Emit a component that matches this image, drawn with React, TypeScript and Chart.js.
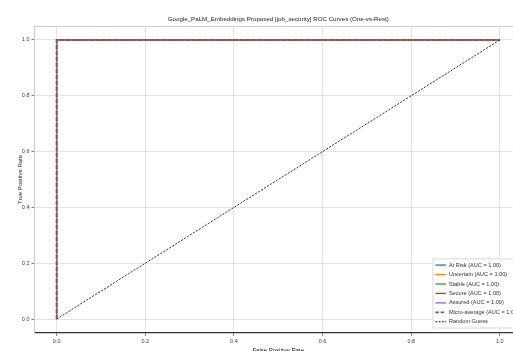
import { useEffect, useRef } from "react";
import { Chart, registerables } from "chart.js";

Chart.register(...registerables);

// One-vs-rest ROC curves per class
const classNames = ["At Risk", "Uncertain", "Stable", "Secure", "Assured"];
const classColors = ["#1f77b4", "#ff7f0e", "#2ca02c", "#d62728", "#9467bd"];
const classAuc = [1.0, 1.0, 1.0, 1.0, 1.0];
const classFpr = [
  [0, 0, 1],
  [0, 0, 1],
  [0, 0, 1],
  [0, 0, 1],
  [0, 0, 1],
];
const classTpr = [
  [0, 1, 1],
  [0, 1, 1],
  [0, 1, 1],
  [0, 1, 1],
  [0, 1, 1],
];

// Micro-averaged curve
const microFpr = [0, 0, 1];
const microTpr = [0, 1, 1];
const microAuc = 1.0;

// Chance diagonal
const chanceFpr = [0, 1];
const chanceTpr = [0, 1];

const axisTicks = [0, 0.2, 0.4, 0.6, 0.8, 1.0];

const TITLE = "Google_PaLM_Embeddings Proposed [job_security] ROC Curves (One-vs-Rest)";
const FONT = "'Liberation Sans', Arial, sans-serif";

const toPoints = (xs: number[], ys: number[]) => xs.map((x, i) => ({ x, y: ys[i] }));

type LegendItem = { label: string; color: string; width: number; dash: number[] };

const legendItems: LegendItem[] = [
  ...classNames.map((n, i) => ({
    label: `${n} (AUC = ${classAuc[i].toFixed(2)})`,
    color: classColors[i],
    width: 1.3,
    dash: [] as number[],
  })),
  { label: `Micro-average (AUC = ${microAuc.toFixed(2)})`, color: "#8c564b", width: 1.9, dash: [3.5, 1.8] },
  { label: "Random Guess", color: "#222222", width: 1, dash: [2, 1.2] },
];

const framePlugin = {
  id: "frameAndLegend",
  afterDatasetsDraw(chart: any) {
    const { ctx, chartArea } = chart;
    const { left, right, top, bottom } = chartArea;
    ctx.save();
    // light top / right spines
    ctx.strokeStyle = "#cccccc";
    ctx.lineWidth = 1;
    ctx.beginPath();
    ctx.moveTo(left, top + 0.5);
    ctx.lineTo(right, top + 0.5);
    ctx.moveTo(right - 0.5, top);
    ctx.lineTo(right - 0.5, bottom);
    ctx.stroke();

    // title centred over the plot area
    ctx.fillStyle = "#222222";
    ctx.font = `6.2px ${FONT}`;
    ctx.textAlign = "center";
    ctx.textBaseline = "middle";
    ctx.fillText(TITLE, (left + right) / 2, top - 7);

    // legend in the lower-right corner
    const fs = 5.6;
    ctx.font = `${fs}px ${FONT}`;
    const rowH = 9.45;
    const handle = 10.5;
    const gap = 3;
    const pad = 2.5;
    const textW = Math.max(...legendItems.map((it) => ctx.measureText(it.label).width));
    const boxW = pad + handle + gap + textW + pad;
    const boxH = pad * 2 + rowH * legendItems.length - 2;
    const bx = right - 0.5 - boxW;
    const by = bottom - 5 - boxH;
    ctx.fillStyle = "rgba(255,255,255,0.85)";
    ctx.strokeStyle = "#d0d0d0";
    ctx.lineWidth = 0.8;
    ctx.beginPath();
    ctx.rect(bx, by, boxW, boxH);
    ctx.fill();
    ctx.stroke();
    ctx.textAlign = "left";
    ctx.textBaseline = "middle";
    legendItems.forEach((it, i) => {
      const cy = by + pad + rowH * i + rowH / 2 - 1;
      ctx.strokeStyle = it.color;
      ctx.lineWidth = it.width;
      ctx.setLineDash(it.dash);
      ctx.beginPath();
      ctx.moveTo(bx + pad, cy);
      ctx.lineTo(bx + pad + handle, cy);
      ctx.stroke();
      ctx.setLineDash([]);
      ctx.fillStyle = "#333333";
      ctx.fillText(it.label, bx + pad + handle + gap, cy);
    });
    ctx.restore();
  },
};

export default function App() {
  const ref = useRef<HTMLCanvasElement>(null);

  useEffect(() => {
    if (!ref.current) return;

    const classSets = classNames.map((name, i) => ({
      label: `${name} (AUC = ${classAuc[i].toFixed(2)})`,
      data: toPoints(classFpr[i], classTpr[i]),
      borderColor: classColors[i],
      backgroundColor: classColors[i],
      borderWidth: 1,
      order: 6 - i,
    }));

    const chart = new Chart(ref.current, {
      type: "scatter",
      data: {
        datasets: [
          ...classSets,
          {
            label: `Micro-average (AUC = ${microAuc.toFixed(2)})`,
            data: toPoints(microFpr, microTpr),
            borderColor: "#8c564b",
            backgroundColor: "#8c564b",
            borderWidth: 2,
            borderDash: [4, 2],
            order: 1,
          },
          {
            label: "Random Guess",
            data: toPoints(chanceFpr, chanceTpr),
            borderColor: "#222222",
            backgroundColor: "#222222",
            borderWidth: 0.9,
            borderDash: [2.2, 1.3],
            order: 0,
          },
        ].map((d) => ({ ...d, showLine: true, pointRadius: 0, fill: false, tension: 0 })),
      },
      options: {
        responsive: false,
        animation: false,
        devicePixelRatio: 1,
        layout: { padding: { top: 26, right: 35, left: 0, bottom: 0 } },
        plugins: {
          legend: { display: false },
          title: { display: false },
          tooltip: { enabled: false },
        },
        scales: {
          x: {
            type: "linear",
            min: -0.05,
            max: 1.05,
            afterFit: (s: any) => {
              s.height = 27;
            },
            afterBuildTicks: (s: any) => {
              s.ticks = axisTicks.map((v) => ({ value: v }));
            },
            ticks: {
              font: { family: FONT, size: 5.5 },
              color: "#444444",
              padding: 2,
              maxRotation: 0,
              callback: (v: any) => Number(v).toFixed(1),
            },
            grid: {
              color: "rgba(0,0,0,0.14)",
              lineWidth: 0.8,
              tickLength: 3,
              tickColor: "#666666",
            },
            border: { color: "#333333", width: 1.2 },
            title: {
              display: true,
              text: "False Positive Rate",
              font: { family: FONT, size: 6 },
              color: "#222222",
              padding: { top: 0, bottom: 6.4 },
            },
          },
          y: {
            type: "linear",
            min: -0.05,
            max: 1.05,
            afterFit: (s: any) => {
              s.width = 34.5;
            },
            afterBuildTicks: (s: any) => {
              s.ticks = axisTicks.map((v) => ({ value: v }));
            },
            ticks: {
              font: { family: FONT, size: 5.5 },
              color: "#444444",
              padding: 2,
              callback: (v: any) => Number(v).toFixed(1),
            },
            grid: {
              color: "rgba(0,0,0,0.14)",
              lineWidth: 0.8,
              tickLength: 3,
              tickColor: "#666666",
            },
            border: { color: "#cccccc", width: 1 },
            title: {
              display: true,
              text: "True Positive Rate",
              font: { family: FONT, size: 6 },
              color: "#222222",
              padding: { top: 16.4, bottom: 0 },
            },
          },
        },
      },
      plugins: [framePlugin],
    });

    return () => chart.destroy();
  }, []);

  return (
    <div
      style={{
        position: "fixed",
        left: 0,
        top: 0,
        width: 513,
        height: 351,
        overflow: "hidden",
        background: "#ffffff",
      }}
    >
      <canvas ref={ref} width={557} height={360} style={{ width: 557, height: 360, display: "block" }} />
    </div>
  );
}
